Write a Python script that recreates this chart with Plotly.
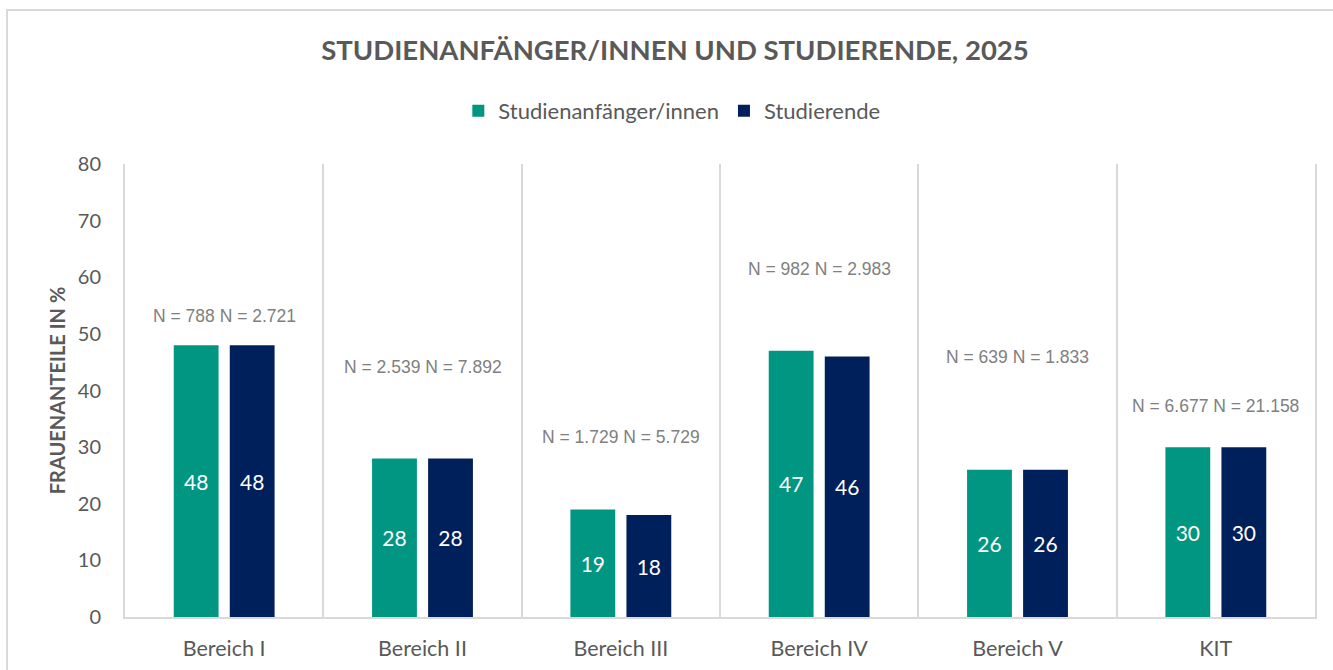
import plotly.graph_objects as go

categories = ["Bereich I", "Bereich II", "Bereich III", "Bereich IV", "Bereich V", "KIT"]
anfaenger = [48, 28, 19, 47, 26, 30]
studierende = [48, 28, 18, 46, 26, 30]
n_labels = ["N = 788 N = 2.721", "N = 2.539 N = 7.892", "N = 1.729 N = 5.729",
            "N = 982 N = 2.983", "N = 639 N = 1.833", "N = 6.677 N = 21.158"]
n_label_y = [53.1, 44.1, 31.8, 61.5, 45.9, 37.3]
y_ticks = [0, 10, 20, 30, 40, 50, 60, 70, 80]

GREEN = "#009682"
NAVY = "#00205B"
GRAY_TXT = "#595959"
GRID = "#D9D9D9"
FONT = "Lato, 'Open Sans', sans-serif"

fig = go.Figure()
fig.add_trace(go.Bar(
    x=categories, y=anfaenger, name="Studienanfänger/innen",
    marker=dict(color=GREEN, line=dict(width=0)),
    text=[str(v) for v in anfaenger], textposition="inside",
    insidetextanchor="middle", textangle=0, constraintext="none",
    textfont=dict(color="white", size=21, family=FONT),
))
fig.add_trace(go.Bar(
    x=categories, y=studierende, name="Studierende",
    marker=dict(color=NAVY, line=dict(width=0)),
    text=[str(v) for v in studierende], textposition="inside",
    insidetextanchor="middle", textangle=0, constraintext="none",
    textfont=dict(color="white", size=21, family=FONT),
))

for c, lab, yy in zip(categories, n_labels, n_label_y):
    fig.add_annotation(x=c, y=yy, text=lab, showarrow=False, xref="x", yref="y",
                       font=dict(family="'Liberation Sans', Arial, sans-serif", size=17.5, color="#808080"))

# outer chart frame
fig.add_shape(type="rect", xref="paper", yref="paper",
              x0=(7 - 125) / 1190, x1=1.03, y0=-0.3, y1=(617 - 10) / 453,
              line=dict(color="#D9D9D9", width=2), fillcolor="rgba(0,0,0,0)", layer="below")

fig.update_layout(
    width=1333, height=670,
    margin=dict(l=125, r=18, t=164, b=53),
    paper_bgcolor="white", plot_bgcolor="white",
    barmode="group", bargap=0.435, bargroupgap=0.2,
    font=dict(family=FONT, color=GRAY_TXT),
    title=dict(text="<b>STUDIENANFÄNGER/INNEN UND STUDIERENDE, 2025</b>",
               x=675 / 1333, xanchor="center", y=1 - 50 / 670, yanchor="middle",
               font=dict(size=27.5, color=GRAY_TXT, family=FONT)),
    legend=dict(orientation="h", x=0.504, xanchor="center", xref="container",
                y=1 - 111 / 670, yanchor="middle", yref="container",
                font=dict(size=22, color=GRAY_TXT, family=FONT),
                itemwidth=30, traceorder="normal"),
    showlegend=True,
)
fig.update_xaxes(
    type="category", tickson="boundaries", showgrid=True, gridcolor=GRID, gridwidth=2,
    showline=True, linecolor=GRID, linewidth=2, ticks="", ticklen=0, automargin=False,
    tickfont=dict(size=21.5, color=GRAY_TXT, family=FONT), ticklabelstandoff=11,
)
fig.update_yaxes(
    range=[0, 80], tickvals=y_ticks, showgrid=False, zeroline=False, automargin=False,
    showline=True, linecolor=GRID, linewidth=2, mirror=True, ticks="",
    tickfont=dict(size=20, color=GRAY_TXT, family=FONT), ticklabelstandoff=18,
    title=dict(text="<b>FRAUENANTEILE IN %</b>", font=dict(size=20, color=GRAY_TXT, family=FONT), standoff=7),
)

fig.write_html("out.html", config={"displayModeBar": False},
               post_script="document.body.style.margin='0px';")
